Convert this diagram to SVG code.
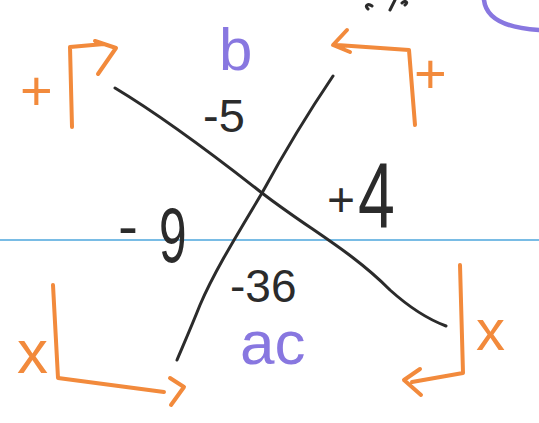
<svg xmlns="http://www.w3.org/2000/svg" width="539" height="423" viewBox="0 0 539 423">
<style>
.ink{fill:none;stroke:#2b2b2b;stroke-width:3;stroke-linecap:round;stroke-linejoin:round}
.or{fill:none;stroke:#f28a3c;stroke-width:4;stroke-linecap:round;stroke-linejoin:round}
.pu{fill:none;stroke:#8877e0;stroke-width:4.5;stroke-linecap:round}
.tk{font-family:"Liberation Sans",Arial,sans-serif;fill:#2b2b2b}
.to{font-family:"Liberation Sans",Arial,sans-serif;fill:#f28a3c}
.tp{font-family:"Liberation Sans",Arial,sans-serif;fill:#8877e0}
</style>
<rect width="539" height="423" fill="#ffffff"/>
<line x1="0" y1="240" x2="539" y2="240" stroke="#4da6dc" stroke-width="1.5"/>
<path class="pu" d="M484 0 C486 18 505 28 539 30"/>
<path class="ink" stroke-width="2" d="M372 6 C368 3 364 6 368 9 M390 10 L395 0 M402 3 C405 0 409 2 405 5"/>
<g id="lines">
<path class="ink" d="M115 88 C160 115 220 160 262 193 C310 230 350 250 390 290 C410 308 430 320 446 326"/>
<path class="ink" d="M333 76 C310 110 280 160 262 193 C240 230 215 270 200 305 C190 330 182 348 177 360"/>
</g>
<g id="brackets">
<path class="or" d="M72 127 L70 47 L104 44 M95 41 L116 48 L98 74"/>
<path class="or" d="M415 125 L409 50 L337 45 M347 30 L333 45 L350 52"/>
<path class="or" d="M53 285 L58 378 L164 392 M170 378 L184 387 L171 405"/>
<path class="or" d="M460 265 L463 373 L412 382 M420 369 L404 380 L421 395"/>
</g>
<g id="labels">
<text class="tp" x="219" y="70" font-size="60">b</text>
<text class="tk" x="203" y="132" font-size="47">-5</text>
<text class="tk" x="327" y="216" font-size="48">+</text>
<text class="tk" transform="translate(358,227) scale(0.72,1)" font-size="92">4</text>
<text class="tk" x="118" y="246" font-size="60">-</text>
<text class="tk" transform="translate(159,262) scale(0.8,1.25)" font-size="62">9</text>
<text class="tk" x="230" y="302" font-size="46">-36</text>
<text class="tp" x="240" y="364" font-size="62">ac</text>
<text class="to" x="20" y="110" font-size="56">+</text>
<text class="to" x="414" y="93" font-size="56">+</text>
<text class="to" x="17" y="373" font-size="62">x</text>
<text class="to" x="476" y="350" font-size="58">x</text>
</g>
</svg>
